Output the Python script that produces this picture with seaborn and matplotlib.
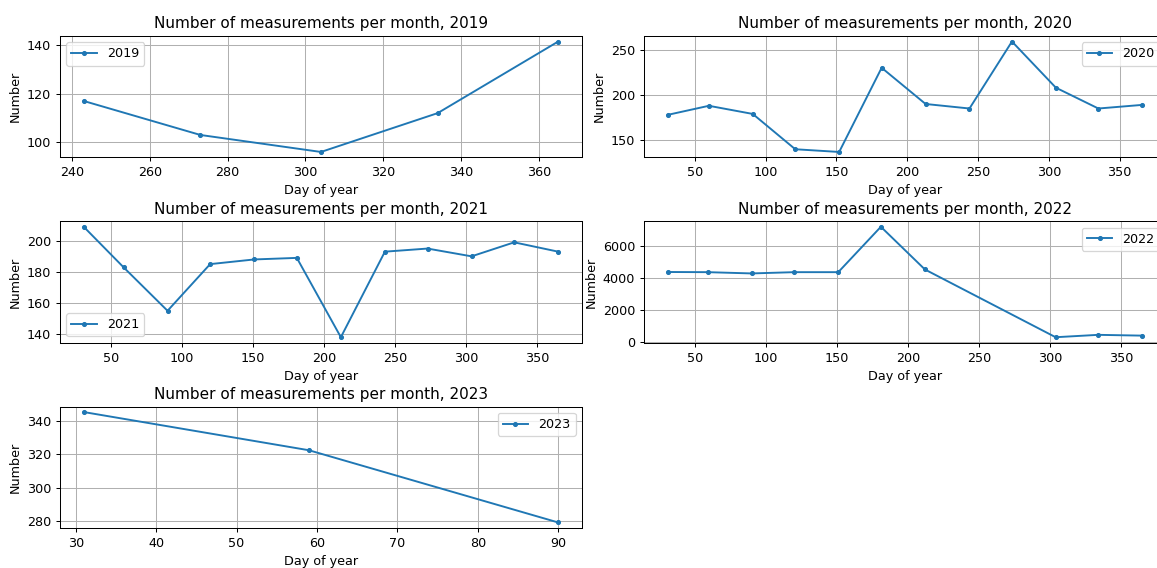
import numpy as np
import pandas as pd
import matplotlib
matplotlib.use("Agg")
import matplotlib.pyplot as plt
import seaborn as sns


#%% Data (day of year = last day of each month)
Days_2019   = [243, 273, 304, 334, 365]
Count_2019  = [117, 103, 96, 112, 141.5]

Days_2020   = [31, 60, 91, 121, 152, 182, 213, 244, 274, 305, 335, 366]
Count_2020  = [178, 188, 179, 140, 137, 230, 190, 185, 259, 208, 185, 189]

Days_2021   = [31, 59, 90, 120, 151, 181, 212, 243, 273, 304, 334, 365]
Count_2021  = [209, 183, 155, 185, 188, 189, 138, 193, 195, 190, 199, 193]

Days_2022   = [31, 59, 90, 120, 151, 181, 212, 304, 334, 365]
Count_2022  = [4380, 4370, 4290, 4370, 4370, 7230, 4540, 270, 420, 370]

Days_2023   = [31, 59, 90]
Count_2023  = [345.5, 322.5, 279]

Years       = ["2019", "2020", "2021", "2022", "2023"]
Days_All    = [Days_2019, Days_2020, Days_2021, Days_2022, Days_2023]
Counts_All  = [Count_2019, Count_2020, Count_2021, Count_2022, Count_2023]
Legend_Loc  = ["upper left", "upper right", "lower left", "upper right", "upper right"]


#%% Figure
Fig_DPI     = 91.5
Fig_Width   = 1157 / Fig_DPI
Fig_Height  = 568 / Fig_DPI
Line_Color  = "#1f77b4"

Fig, axes = plt.subplots(3, 2, figsize=[Fig_Width, Fig_Height], dpi=Fig_DPI)
Fig.subplots_adjust(left=60/1157, right=1166/1157,
                    top=1 - 36/568, bottom=1 - 528/568,
                    wspace=0.119, hspace=0.525)

axes = axes.flatten()

for i, year in enumerate(Years):

    ax = axes[i]
    df = pd.DataFrame({"Day of year": Days_All[i], "Number": Counts_All[i]})

    sns.lineplot(ax=ax, data=df, x="Day of year", y="Number",
                 marker=".", color=Line_Color, label=year,
                 markeredgecolor=Line_Color, markeredgewidth=1,
                 linewidth=1.5)

    ax.set_title("Number of measurements per month, " + year, fontsize=12)
    ax.set_xlabel("Day of year")
    ax.set_ylabel("Number")
    ax.grid(True)
    ax.legend(loc=Legend_Loc[i])

# Last panel empty
Fig.delaxes(axes[5])

plt.savefig("out.png", dpi=Fig_DPI)
